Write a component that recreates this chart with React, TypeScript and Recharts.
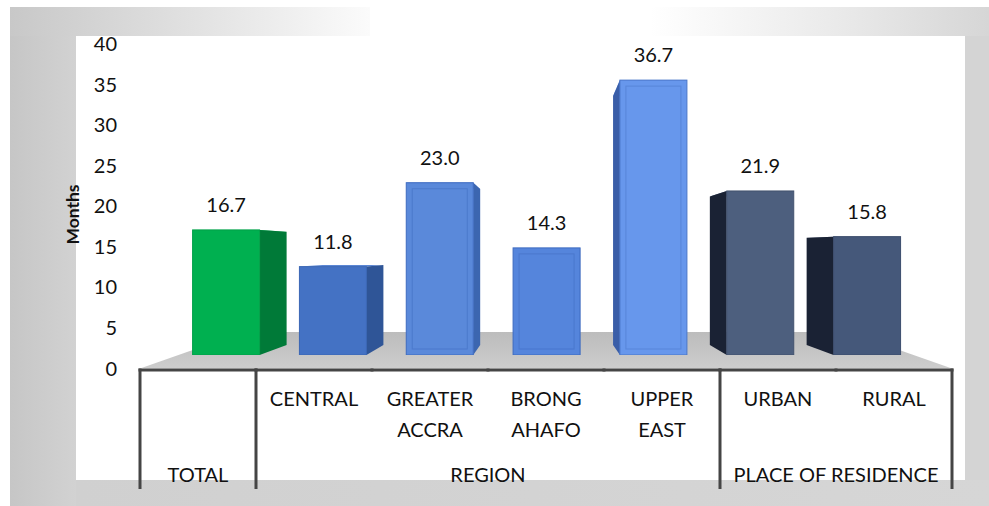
import React from 'react';
import { ComposedChart, Bar, XAxis, YAxis, LabelList, ReferenceArea, Label } from 'recharts';

const categories = ['TOTAL', 'CENTRAL', 'GREATER ACCRA', 'BRONG AHAFO', 'UPPER EAST', 'URBAN', 'RURAL'];
const values = [16.7, 11.8, 23.0, 14.3, 36.7, 21.9, 15.8];
const tickLines = [[], ['CENTRAL'], ['GREATER', 'ACCRA'], ['BRONG', 'AHAFO'], ['UPPER', 'EAST'], ['URBAN'], ['RURAL']];
const groupLabels = ['TOTAL', 'REGION', 'PLACE OF RESIDENCE'];
const groupSpans = [1, 4, 2];
const yTicks = [0, 5, 10, 15, 20, 25, 30, 35, 40];
const yAxisTitle = 'Months';

const data = categories.map((name, i) => ({ name, value: values[i] }));

// style constants
const FONT = 'Lato, "Open Sans", "DejaVu Sans", sans-serif';
const FS = 20;
const PALETTE = [
  { front: '#00b050', side: '#007a38', top: '#14c060', edge: '#00a048' },
  { front: '#4472c4', side: '#2f5597', top: '#5b86d4', edge: '#3a66b4' },
  { front: '#5a89da', side: '#3c66b0', top: '#7aa2e8', edge: '#3d6ac0' },
  { front: '#5585dc', side: '#3c66b0', top: '#7aa2e8', edge: '#3d6ac0' },
  { front: '#6797ec', side: '#3a5ea8', top: '#8ab4fb', edge: '#4a76c8' },
  { front: '#4d5f7e', side: '#1a2234', top: '#5b6d8a', edge: '#42526e' },
  { front: '#45587a', side: '#1a2234', top: '#56688a', edge: '#3c4d6c' },
];
const VPX = 547;
const VPY = 249;
const K = 0.094;
const LINE = '#454545';

const groupStart: number[] = [];
{
  let acc = 0;
  groupSpans.forEach((s) => { groupStart.push(acc); acc += s; });
}

function Bar3D(props: any) {
  const { x, y, width, height, index } = props;
  if (width == null || height == null) return null;
  const c = PALETTE[index % PALETTE.length];
  const xl = x, xr = x + width, yt = y, yb = y + height;
  const back = (px: number, py: number) => [px + K * (VPX - px), py + K * (VPY - py)];
  const sideX = (xl + xr) / 2 < VPX ? xr : xl;
  const [b1x, b1y] = back(sideX, yt);
  const [b2x, b2y] = back(sideX, yb);
  const [tlx, tly] = back(xl, yt);
  const [trx, tryy] = back(xr, yt);
  const bevel = index >= 2 && index <= 4;
  return (
    <g>
      <polygon points={`${xl},${yt} ${xr},${yt} ${trx},${tryy} ${tlx},${tly}`} fill={c.top} />
      <polygon points={`${sideX},${yt} ${b1x},${b1y} ${b2x},${b2y} ${sideX},${yb}`} fill={c.side} />
      <rect x={xl} y={yt} width={width} height={height} fill={c.front} stroke={c.edge} strokeWidth={1} />
      {bevel && (
        <rect x={xl + 6} y={yt + 6} width={width - 12} height={height - 12} fill="none" stroke={c.edge} strokeOpacity={0.5} strokeWidth={1} />
      )}
    </g>
  );
}

function Floor(props: any) {
  const { x, y, width, height } = props;
  const inset = height * 2.85;
  return (
    <g>
      <defs>
        <linearGradient id="floorGrad" x1="0" y1="0" x2="0" y2="1">
          <stop offset="0" stopColor="#bcbcbc" />
          <stop offset="1" stopColor="#cdcdcd" />
        </linearGradient>
      </defs>
      <polygon
        points={`${x},${y + height} ${x + width},${y + height} ${x + width - inset},${y} ${x + inset},${y}`}
        fill="url(#floorGrad)"
      />
    </g>
  );
}

function TableTick(props: any) {
  const { x, y, payload, index } = props;
  const half = payload && payload.offset ? payload.offset : 58;
  const lines = tickLines[index] || [];
  const gi = groupStart.indexOf(index);
  const els: any[] = [];
  els.push(<line key="h" x1={x - half - 1.5} x2={x + half + 1.5} y1={y + 1.5} y2={y + 1.5} stroke={LINE} strokeWidth={3} />);
  lines.forEach((t: string, k: number) => {
    els.push(
      <text key={'t' + k} x={x} y={y + 37.5 + k * 31} textAnchor="middle" fontSize={FS} fontFamily={FONT} fill="#111">
        {t}
      </text>
    );
  });
  if (gi >= 0) {
    const left = x - half;
    els.push(<line key="v" x1={left} x2={left} y1={y} y2={y + 120.5} stroke={LINE} strokeWidth={3} />);
    const cx = left + groupSpans[gi] * half;
    els.push(
      <text key="g" x={cx} y={y + 113.5} textAnchor="middle" fontSize={FS} fontFamily={FONT} fill="#111">
        {groupLabels[gi]}
      </text>
    );
  }
  if (index === categories.length - 1) {
    const right = x + half;
    els.push(<line key="vr" x1={right} x2={right} y1={y} y2={y + 120.5} stroke={LINE} strokeWidth={3} />);
  }
  return <g>{els}</g>;
}

function Background() {
  const base: React.CSSProperties = { position: 'absolute' };
  return (
    <>
      <div style={{ ...base, left: 10, top: 7, width: 360, height: 29, background: 'linear-gradient(to right, #c8c8c8, #e6e6e6 60%, #fbfbfb)' }} />
      <div style={{ ...base, left: 650, top: 7, width: 339, height: 29, background: 'linear-gradient(to right, #ffffff, #e8e8e8 60%, #d6d6d6)' }} />
      <div style={{ ...base, left: 10, top: 36, width: 66, height: 470, background: 'linear-gradient(to right, #c6c6c6, #d2d2d2)' }} />
      <div style={{ ...base, left: 76, top: 480, width: 913, height: 26, background: 'linear-gradient(to right, #d0d0d0, #d6d6d6)' }} />
      <div style={{ ...base, left: 965, top: 36, width: 24, height: 444, background: '#d4d4d4' }} />
    </>
  );
}

export default function App() {
  return (
    <div style={{ position: 'absolute', left: 0, top: 0, width: 989, height: 506, background: '#fff', overflow: 'hidden' }}>
      <Background />
      <ComposedChart
        width={989}
        height={506}
        data={data}
        margin={{ top: 44, right: 37, bottom: 0, left: 0 }}
        style={{ fontFamily: FONT }}
      >
        <XAxis
          xAxisId="cat"
          dataKey="name"
          height={137.5}
          axisLine={false}
          tickLine={false}
          tickSize={0}
          tickMargin={0}
          interval={0}
          tick={<TableTick />}
        />
        <XAxis xAxisId="barX" dataKey="name" hide height={0} padding={{ left: 32.6, right: 31.6 }} />
        <YAxis
          yAxisId="left"
          type="number"
          domain={[0, 40]}
          allowDataOverflow
          ticks={yTicks}
          width={140}
          axisLine={false}
          tickLine={false}
          tickSize={0}
          tickMargin={23}
          tick={{ fontSize: FS, fill: '#111', fontFamily: FONT }}
        >
          <Label
            content={() => (
              <text
                x={72.5}
                y={214.5}
                transform="rotate(-90 72.5 214.5)"
                textAnchor="middle"
                dominantBaseline="central"
                fontSize={17.5}
                fontWeight="bold"
                fontFamily={FONT}
                fill="#111"
              >
                {yAxisTitle}
              </text>
            )}
          />
        </YAxis>
        <YAxis yAxisId="barY" type="number" domain={[0, 40]} allowDataOverflow hide width={0} padding={{ top: 11.4, bottom: 13.5 }} />
        <ReferenceArea
          xAxisId="cat"
          yAxisId="left"
          x1={categories[0]}
          x2={categories[categories.length - 1]}
          y1={0}
          y2={4.5}
          shape={<Floor />}
          ifOverflow="visible"
        />
        <Bar
          xAxisId="barX"
          yAxisId="barY"
          dataKey="value"
          barSize={67}
          isAnimationActive={false}
          shape={<Bar3D />}
        >
          <LabelList
            dataKey="value"
            position="top"
            offset={18}
            formatter={(v: any) => Number(v).toFixed(1)}
            style={{ fontSize: FS, fill: '#111', fontFamily: FONT }}
          />
        </Bar>
      </ComposedChart>
    </div>
  );
}
